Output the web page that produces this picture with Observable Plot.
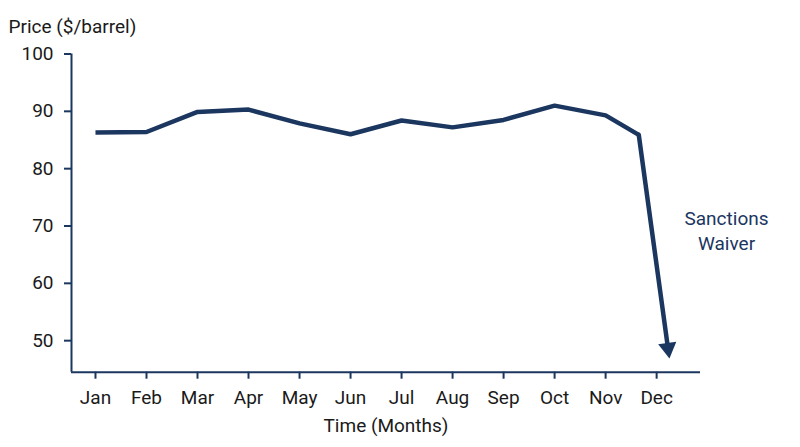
<!DOCTYPE html>
<html><head><meta charset="utf-8">
<script src="https://cdn.jsdelivr.net/npm/d3@7"></script>
<script src="https://cdn.jsdelivr.net/npm/@observablehq/plot@0.6"></script>
<style>body{margin:0;background:#fff;font-family:Roboto,sans-serif}</style>
</head><body><div id="chart"></div>
<script>
const months = ["Jan","Feb","Mar","Apr","May","Jun","Jul","Aug","Sep","Oct","Nov","Dec"];
const lineX = [0,1,2,3,4,5,6,7,8,9,10,10.65];
const lineY = [86.3,86.4,89.9,90.3,87.9,86.0,88.4,87.2,88.5,91.0,89.3,85.9];
const dropStart = {x: 10.65, y: 85.9};
const dropEnd = {x: 11.25, y: 46.9};
const yTicks = [50,60,70,80,90,100];
const xDomain = [-0.47, 11.86];
const yDomain = [44.5, 100];
const note = {x: 12.37, y: 69.4, text: "Sanctions\nWaiver"};

const navy = "#1b365f";
const ink = "#1a1a1a";
const pts = lineX.map((x,i)=>({x, y: lineY[i]}));

const chart = Plot.plot({
  width: 800, height: 447,
  marginTop: 53.5, marginBottom: 75.3, marginLeft: 71, marginRight: 100,
  style: {fontFamily: "Roboto, sans-serif", fontSize: "19px", color: ink, background: "#fff", overflow: "visible"},
  x: {domain: xDomain},
  y: {domain: yDomain},
  marks: [
    Plot.axisY({ticks: yTicks, tickSize: 7, tickPadding: 11, stroke: navy, strokeWidth: 2, fill: ink, fontSize: 19, label: null}),
    Plot.axisX({ticks: d3.range(12), tickFormat: i => months[i], tickSize: 7, tickPadding: 11, stroke: navy, strokeWidth: 2, fill: ink, fontSize: 19,
      label: "Time (Months)", labelAnchor: "center", labelArrow: false, labelOffset: 60}),
    Plot.ruleX([xDomain[0]], {stroke: navy, strokeWidth: 2}),
    Plot.ruleY([yDomain[0]], {stroke: navy, strokeWidth: 2}),
    Plot.line(pts, {x: "x", y: "y", stroke: navy, strokeWidth: 4.5, strokeLinejoin: "miter", strokeLinecap: "butt"}),
    Plot.arrow([{x1: dropStart.x, y1: dropStart.y, x2: dropEnd.x, y2: dropEnd.y}],
      {x1: "x1", y1: "y1", x2: "x2", y2: "y2", stroke: navy, strokeWidth: 4.5, headLength: 0, insetEnd: 10, strokeLinecap: "round"}),
    Plot.dot([dropEnd], {x: "x", y: "y", symbol: "triangle", r: 6.8, fill: navy, stroke: "none", rotate: 172, dx: -1.4, dy: -10.3}),
    Plot.text([note], {x: "x", y: "y", text: "text", fill: navy, fontSize: 19, lineHeight: 1.35, textAnchor: "middle"}),
    Plot.text(["Price ($/barrel)"], {frameAnchor: "top-left", dx: -63, dy: -35, fill: ink, fontSize: 19, textAnchor: "start"})
  ]
});
document.getElementById("chart").appendChild(chart);
</script></body></html>
